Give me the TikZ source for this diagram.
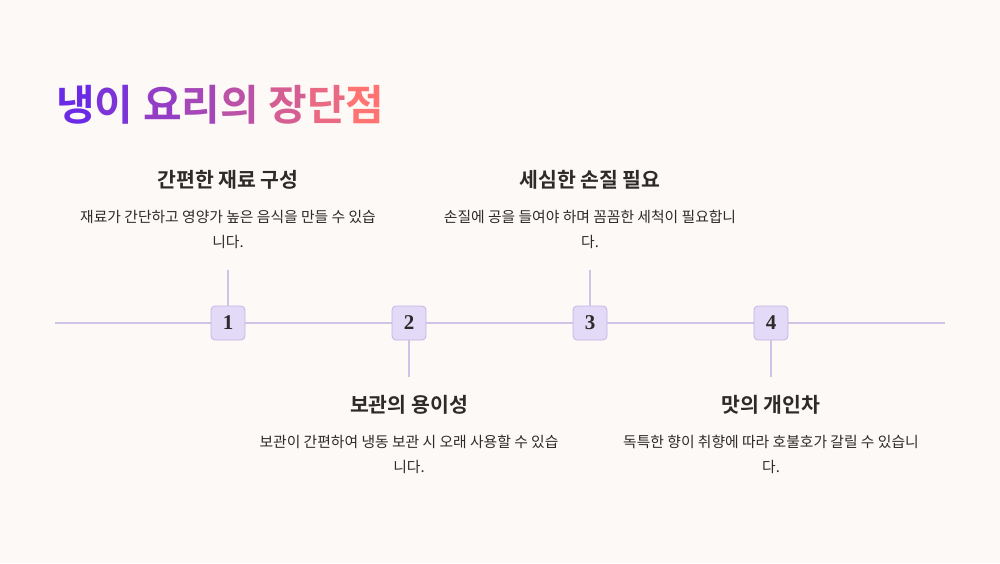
\documentclass[tikz,border=0pt]{standalone}
\usepackage{fontspec}
\newfontfamily\kr{Noto Sans CJK KR}
\newfontfamily\krb{Noto Sans CJK KR Bold}
\newfontfamily\numf{Liberation Serif}
\definecolor{bg}{HTML}{FDF9F6}
\definecolor{ln}{HTML}{CFC4E6}
\definecolor{bfill}{HTML}{E2DAF6}
\definecolor{bdraw}{HTML}{C4B5E4}
\definecolor{tx}{HTML}{2E2A2A}
\definecolor{ca}{HTML}{6A2AE6}
\definecolor{cb}{HTML}{FF7373}
\tikzset{
 badge/.style={draw=bdraw,fill=bfill,line width=0.8pt,rounded corners=4pt,minimum size=34pt,inner sep=0pt,font=\numf\bfseries\fontsize{21}{21}\selectfont,text=tx},
 head/.style={font=\krb\fontsize{20.5}{22}\selectfont,text=tx},
 desc/.style={font=\kr\fontsize{14.8}{25}\selectfont,text=tx,align=center},
 conn/.style={draw=ln,line width=1.2pt}
}
\begin{document}
\begin{tikzpicture}[x=1pt,y=-1pt]
\fill[bg] (0,0) rectangle (1000,563);
\useasboundingbox (0,0) rectangle (1000,563);
\node[anchor=west,inner sep=0pt,font=\krb\fontsize{42}{42}\selectfont] (title) at (56,105)
 {\textcolor{ca}{냉}\textcolor{ca!88!cb}{이} \textcolor{ca!72!cb}{요}\textcolor{ca!60!cb}{리}\textcolor{ca!45!cb}{의} \textcolor{ca!28!cb}{장}\textcolor{ca!14!cb}{단}\textcolor{cb}{점}};
\coordinate (L) at (55,323);
\coordinate (R) at (945,323);
\draw[conn] (L) -- (R);
\node[badge] (b1) at (228,323) {1};
\node[badge] (b2) at (409,323) {2};
\node[badge] (b3) at (590,323) {3};
\node[badge] (b4) at (771,323) {4};
\coordinate (t1) at (228,270);
\coordinate (t2) at (409,377);
\coordinate (t3) at (590,270);
\coordinate (t4) at (771,377);
\draw[conn] (b1) -- (t1);
\draw[conn] (b2) -- (t2);
\draw[conn] (b3) -- (t3);
\draw[conn] (b4) -- (t4);
\node[head] (h1) at (228,180) {간편한 재료 구성};
\node[desc] (d1) at (228,229) {재료가 간단하고 영양가 높은 음식을 만들 수 있습\\니다.};
\node[head] (h2) at (409,405) {보관의 용이성};
\node[desc] (d2) at (409,454) {보관이 간편하여 냉동 보관 시 오래 사용할 수 있습\\니다.};
\node[head] (h3) at (590,180) {세심한 손질 필요};
\node[desc] (d3) at (590,229) {손질에 공을 들여야 하며 꼼꼼한 세척이 필요합니\\다.};
\node[head] (h4) at (771,405) {맛의 개인차};
\node[desc] (d4) at (771,454) {독특한 향이 취향에 따라 호불호가 갈릴 수 있습니\\다.};
\end{tikzpicture}
\end{document}
